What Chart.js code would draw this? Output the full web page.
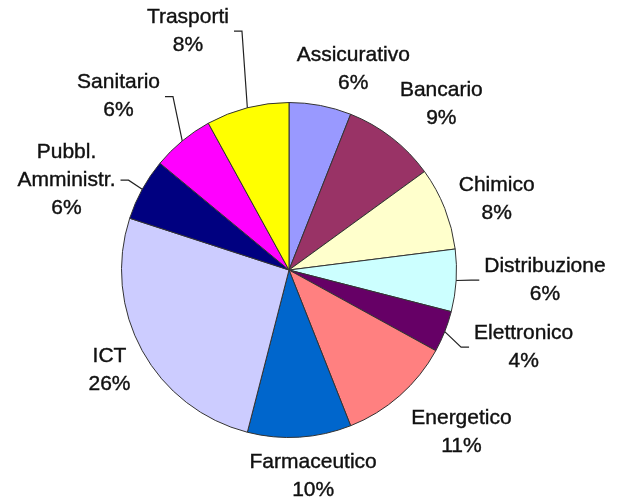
<!DOCTYPE html>
<html>
<head>
<meta charset="utf-8">
<script src="https://cdn.jsdelivr.net/npm/chart.js@4.4.1/dist/chart.umd.min.js"></script>
<style>
  html, body { margin: 0; padding: 0; background: #fff; }
  #wrap { width: 618px; height: 504px; position: relative; }
</style>
</head>
<body>
<div id="wrap"><canvas id="pie_Chart" width="618" height="504"></canvas></div>
<script>
// settori e quote (%)
const categories = ['Assicurativo', 'Bancario', 'Chimico', 'Distribuzione', 'Elettronico',
  'Energetico', 'Farmaceutico', 'ICT', ['Pubbl.', 'Amministr.'], 'Sanitario', 'Trasporti'];
const values = [6, 9, 8, 6, 4, 11, 10, 26, 6, 6, 8];
const colors = ['#9999FF', '#993366', '#FFFFCC', '#CCFFFF', '#660066',
  '#FF8080', '#0066CC', '#CCCCFF', '#000080', '#FF00FF', '#FFFF00'];
// spostamento etichette rispetto al punto di ancoraggio (dx, dy)
const labelShift = [[25, 5], [24, 0], [13, 6], [47, -3], [40, 0],
  [34, 5], [11, -3], [4, -1], [-39, 11], [-37, -12], [-49, -36]];
// quali etichette hanno la linea guida
const leader = [false, false, false, true, true, false, false, false, true, true, true];

const pieLabels = {
  id: 'pieLabels',
  afterDatasetsDraw(chart) {
    const ctx = chart.ctx;
    const arcs = chart.getDatasetMeta(0).data;
    const total = values.reduce((a, b) => a + b, 0);
    ctx.save();
    ctx.font = '21px "Liberation Sans", Arial, sans-serif';
    ctx.fillStyle = '#111';
    ctx.textAlign = 'center';
    ctx.textBaseline = 'middle';
    const lh = 28;
    arcs.forEach((arc, i) => {
      const mid = (arc.startAngle + arc.endAngle) / 2;
      const R = arc.outerRadius;
      const ax = arc.x + Math.cos(mid) * R * 1.25 + labelShift[i][0];
      const ay = arc.y + Math.sin(mid) * R * 1.25 + labelShift[i][1];
      const name = Array.isArray(categories[i]) ? categories[i] : [categories[i]];
      const lines = name.concat([Math.round(values[i] / total * 100) + '%']);
      const y0 = ay - (lines.length - 1) * lh / 2;
      let w = 0;
      ctx.strokeStyle = '#111';
      ctx.lineWidth = 0.4;
      lines.forEach((t, k) => {
        ctx.fillText(t, ax, y0 + k * lh);
        ctx.strokeText(t, ax, y0 + k * lh);
        if (k < lines.length - 1) w = Math.max(w, ctx.measureText(t).width);
      });
      if (leader[i]) {
        const px = arc.x + Math.cos(mid) * R;
        const py = arc.y + Math.sin(mid) * R;
        const dir = px > ax ? 1 : -1;
        const ex = ax + dir * (w / 2 + 5);
        ctx.beginPath();
        ctx.strokeStyle = '#222';
        ctx.lineWidth = 1.2;
        ctx.moveTo(px, py);
        ctx.lineTo(ex + dir * 8, ay);
        ctx.lineTo(ex, ay);
        ctx.stroke();
      }
    });
    ctx.restore();
  }
};

new Chart(document.getElementById('pie_Chart'), {
  type: 'pie',
  data: {
    labels: categories,
    datasets: [{
      data: values,
      backgroundColor: colors,
      borderColor: '#333',
      borderWidth: 1
    }]
  },
  options: {
    responsive: false,
    animation: false,
    layout: { padding: { top: 102, bottom: 66, left: 121, right: 161 } },
    plugins: {
      legend: { display: false },
      tooltip: { enabled: false }
    }
  },
  plugins: [pieLabels]
});
</script>
</body>
</html>
